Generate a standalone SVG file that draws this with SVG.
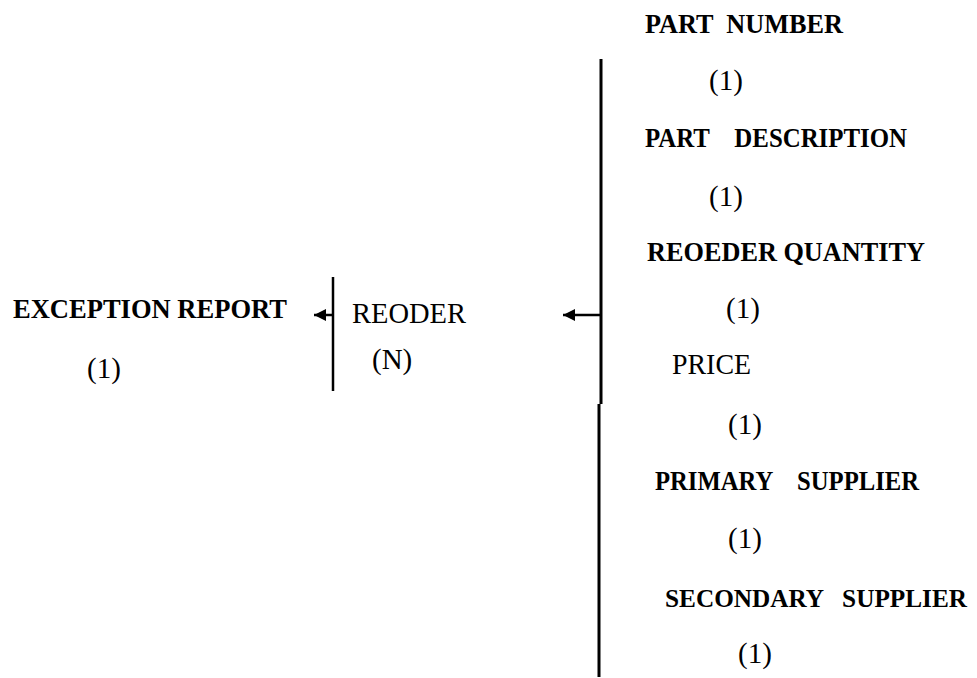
<svg xmlns="http://www.w3.org/2000/svg" width="977" height="678" viewBox="0 0 977 678">
<style>
text{font-family:"Liberation Serif","Times New Roman",serif;fill:#000;white-space:pre}
.b{font-weight:bold;font-size:28px}
.r{font-size:29px}
.ln{stroke:#000;fill:none}
</style>
<defs>
<marker id="ah" markerUnits="userSpaceOnUse" markerWidth="14" markerHeight="14" viewBox="0 0 14 14" refX="12" refY="7" orient="auto">
<path d="M0,1 L12,7 L0,13 Z" fill="#000"/>
</marker>
</defs>
<rect width="977" height="678" fill="#fff"/>
<g id="exception-report">
<text class="b" x="13" y="318" textLength="274" lengthAdjust="spacingAndGlyphs">EXCEPTION REPORT</text>
<text class="r" x="87" y="378">(1)</text>
</g>
<g id="reoder">
<text class="r" x="352" y="323" textLength="114" lengthAdjust="spacingAndGlyphs">REODER</text>
<text class="r" x="372" y="369">(N)</text>
</g>
<g id="part-number">
<text class="b" x="645" y="33" textLength="198" lengthAdjust="spacingAndGlyphs">PART  NUMBER</text>
<text class="r" x="709" y="90">(1)</text>
</g>
<g id="part-description">
<text class="b" x="645" y="147" textLength="262" lengthAdjust="spacingAndGlyphs">PART    DESCRIPTION</text>
<text class="r" x="709" y="206">(1)</text>
</g>
<g id="reorder-quantity">
<text class="b" x="647" y="261" textLength="278" lengthAdjust="spacingAndGlyphs">REOEDER QUANTITY</text>
<text class="r" x="726" y="318">(1)</text>
</g>
<g id="price">
<text class="r" x="672" y="374" textLength="79" lengthAdjust="spacingAndGlyphs">PRICE</text>
<text class="r" x="728" y="434">(1)</text>
</g>
<g id="primary-supplier">
<text class="b" x="655" y="490" textLength="264" lengthAdjust="spacingAndGlyphs">PRIMARY    SUPPLIER</text>
<text class="r" x="728" y="548">(1)</text>
</g>
<g id="secondary-supplier">
<text class="b" x="665" y="607" style="font-size:25.5px" textLength="302" lengthAdjust="spacingAndGlyphs">SECONDARY   SUPPLIER</text>
<text class="r" x="738" y="663">(1)</text>
</g>
<g id="connectors">
<line class="ln" x1="333" y1="277" x2="333" y2="391" stroke-width="2.5"/>
<line class="ln" x1="601" y1="59" x2="601" y2="404" stroke-width="3"/>
<line class="ln" x1="599" y1="404" x2="599" y2="677" stroke-width="3"/>
<line class="ln" x1="333" y1="315" x2="314" y2="315" stroke-width="2.5" marker-end="url(#ah)"/>
<line class="ln" x1="601" y1="315" x2="563" y2="315" stroke-width="2.5" marker-end="url(#ah)"/>
</g>
</svg>
